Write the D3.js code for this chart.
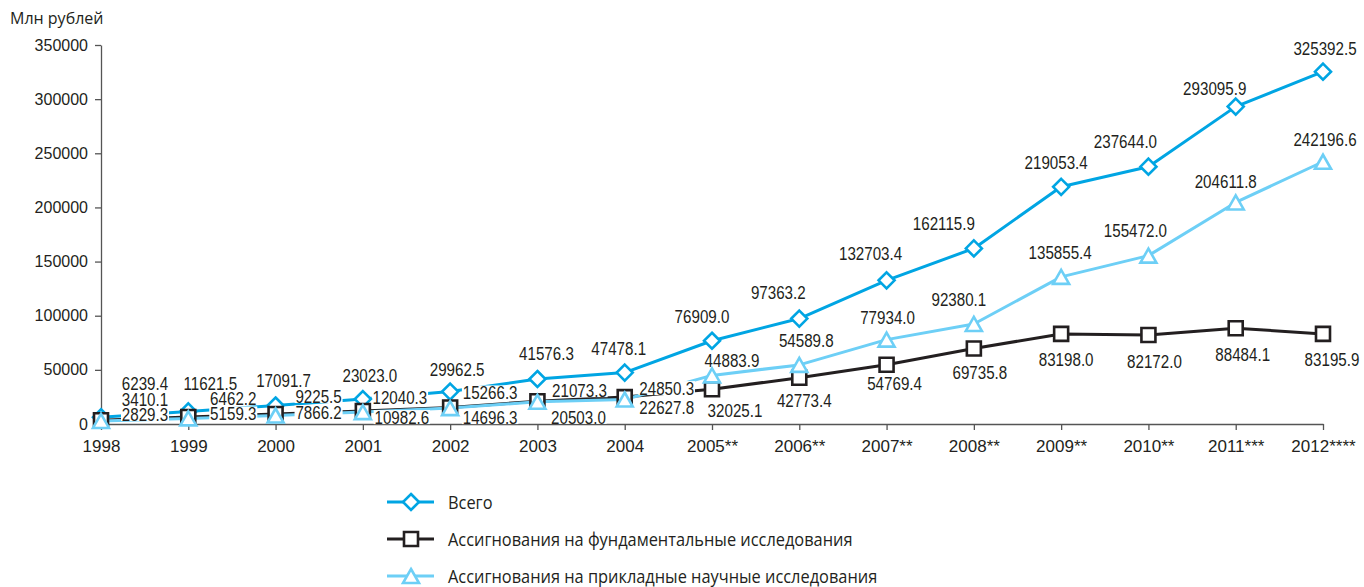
<!DOCTYPE html>
<html>
<head>
<meta charset="utf-8">
<script src="https://cdn.jsdelivr.net/npm/d3@7"></script>
<style>
  body { margin: 0; background: #fff; }
</style>
</head>
<body>
<div id="chart"></div>
<script>
// ─── Data ───
const years = ["1998", "1999", "2000", "2001", "2002", "2003", "2004",
  "2005**", "2006**", "2007**", "2008**", "2009**", "2010**", "2011***", "2012****"];
const total = [6239.4, 11621.5, 17091.7, 23023.0, 29962.5, 41576.3, 47478.1,
  76909.0, 97363.2, 132703.4, 162115.9, 219053.4, 237644.0, 293095.9, 325392.5];
const fundamental = [3410.1, 6462.2, 9225.5, 12040.3, 15266.3, 21073.3, 24850.3,
  32025.1, 42773.4, 54769.4, 69735.8, 83198.0, 82172.0, 88484.1, 83195.9];
const applied = [2829.3, 5159.3, 7866.2, 10982.6, 14696.3, 20503.0, 22627.8,
  44883.9, 54589.8, 77934.0, 92380.1, 135855.4, 155472.0, 204611.8, 242196.6];
const yTicks = [0, 50000, 100000, 150000, 200000, 250000, 300000, 350000];
const seriesNames = [
  "Всего",
  "Ассигнования на фундаментальные исследования",
  "Ассигнования на прикладные научные исследования",
];
const yTitle = "Млн рублей";

// ─── Label offsets from each point (dx, dy) ───
const totalOff = [[44,-34],[22,-28],[8,-25],[7,-24],[7,-23],[9,-26],[-6,-25],
  [-10,-25],[-21,-27],[-16,-27],[-30,-25],[-5,-25],[-23,-26],[-21,-19],[2,-24]];
const fundOff = [[44,-21],[45,-19],[43,-18],[37,-14],[40,-15],[42,-11],[42,-9],
  [23,21],[5,22],[8,18],[6,24],[5,25],[6,26],[7,26],[9,25]];
const applOff = [[44,-7],[45,-5],[43,-3],[39,5],[40,9],[41,15],[42,7],
  [20,-15],[7,-25],[1,-23],[-15,-25],[-1,-25],[-13,-26],[-10,-21],[2,-23]];

const W = 1364, H = 587;
const LABEL_FONT = "'Liberation Sans', Arial, sans-serif";
const UI_FONT = "'Open Sans', 'Noto Sans', sans-serif";

const svg = d3.select("#chart").append("svg")
  .attr("width", W).attr("height", H)
  .style("display", "block");

const x = d3.scalePoint().domain(years).range([101, 1323]);
const y = d3.scaleLinear().domain([0, 350000]).range([424, 45]);

// ─── Marker shapes ───
const shapes = {
  diamond: "M0,-8L8,0L0,8L-8,0Z",
  square: "M-7,-7H7V7H-7Z",
  triangle: "M0,-7L8,7L-8,7Z",
};

const series = [
  { name: seriesNames[0], values: total, off: totalOff, color: "#00A5E3", shape: "diamond" },
  { name: seriesNames[1], values: fundamental, off: fundOff, color: "#231F20", shape: "square" },
  { name: seriesNames[2], values: applied, off: applOff, color: "#6DCFF6", shape: "triangle" },
];

// ── Axes ──
const yAxis = svg.append("g")
  .attr("transform", "translate(101,0)")
  .call(d3.axisLeft(y).tickValues(yTicks).tickSize(6).tickSizeOuter(0).tickPadding(7)
    .tickFormat(d3.format("d")));
const xAxis = svg.append("g")
  .attr("transform", "translate(0,424)")
  .call(d3.axisBottom(x).tickSize(6).tickSizeOuter(0).tickPadding(10));

[yAxis, xAxis].forEach((a) => {
  a.selectAll("path.domain, line").attr("stroke", "#555").attr("stroke-width", 1.3);
  a.selectAll("text").attr("fill", "#231F20")
    .style("font-family", LABEL_FONT);
});
yAxis.selectAll("text").style("font-size", "16px");
xAxis.selectAll("text").style("font-size", "17px");

svg.append("text")
  .attr("x", 10).attr("y", 18)
  .attr("dominant-baseline", "central")
  .style("font-family", UI_FONT).style("font-size", "16px")
  .attr("fill", "#231F20")
  .text(yTitle);

// ── Lines ──
const line = d3.line().x((d, i) => x(years[i])).y((d) => y(d));
series.forEach((s) => {
  svg.append("path")
    .datum(s.values)
    .attr("d", line)
    .attr("fill", "none")
    .attr("stroke", s.color)
    .attr("stroke-width", 3)
    .attr("stroke-linejoin", "round");
});

// ── Value labels (white boxes hide the lines behind them) ──
const fmt = d3.format(".1f");
series.forEach((s) => {
  s.values.forEach((v, i) => {
    const cx = x(years[i]) + s.off[i][0];
    const cy = y(v) + s.off[i][1];
    const g = svg.append("g")
      .attr("transform", `translate(${cx},${cy}) scale(0.82,1)`);
    const rect = g.append("rect").attr("fill", "#fff");
    const t = g.append("text")
      .attr("text-anchor", "middle")
      .attr("y", 7)
      .style("font-family", LABEL_FONT)
      .style("font-size", "18.5px")
      .attr("fill", "#231F20")
      .text(fmt(v));
    const bb = t.node().getBBox();
    // box only as tall as the digits so stacked labels don't hide each other
    rect.attr("x", bb.x - 1).attr("y", -7)
      .attr("width", bb.width + 2).attr("height", 14);
  });
});

// ── Markers ──
series.forEach((s) => {
  svg.selectAll(null)
    .data(s.values)
    .join("path")
    .attr("transform", (d, i) => `translate(${x(years[i])},${y(d)})`)
    .attr("d", shapes[s.shape])
    .attr("fill", "#fff")
    .attr("stroke", s.color)
    .attr("stroke-width", 2.6);
});

// ── Legend ──
const legendY = [502, 539, 576];
series.forEach((s, i) => {
  const lg = svg.append("g").attr("transform", `translate(0,${legendY[i]})`);
  lg.append("line")
    .attr("x1", 387).attr("x2", 434)
    .attr("stroke", s.color).attr("stroke-width", 3);
  lg.append("path")
    .attr("transform", "translate(411,0)")
    .attr("d", shapes[s.shape])
    .attr("fill", "#fff").attr("stroke", s.color).attr("stroke-width", 2.6);
  lg.append("text")
    .attr("transform", "translate(448,0) scale(0.91,1)")
    .attr("dominant-baseline", "central")
    .style("font-family", UI_FONT).style("font-size", "18px")
    .attr("fill", "#231F20")
    .text(s.name);
});
</script>
</body>
</html>
